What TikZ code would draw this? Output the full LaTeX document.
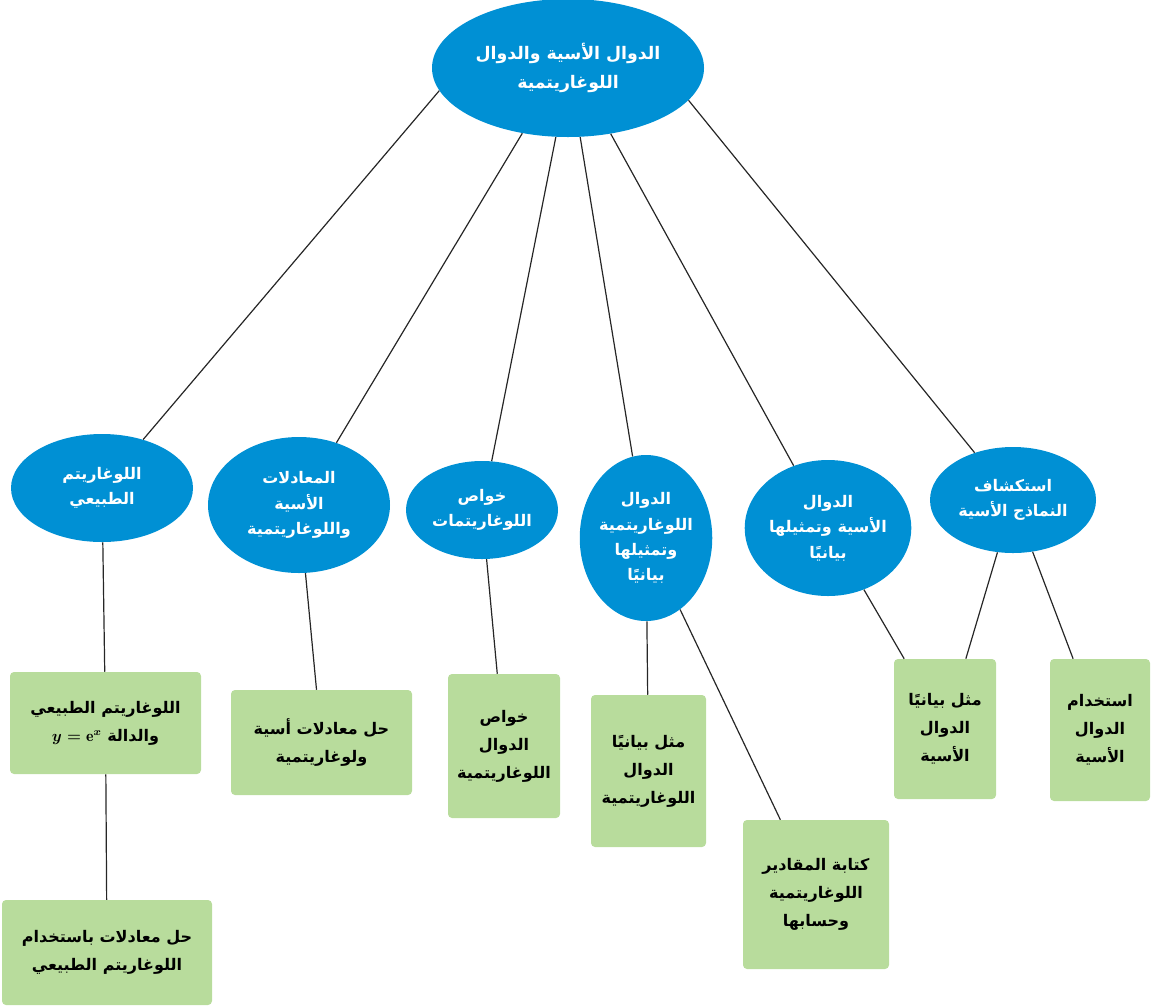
\documentclass[tikz,border=0pt]{standalone}
\usepackage{amsmath}
\usepackage{fontspec}
\newfontfamily\ar[Script=Arabic]{DejaVu Sans}
\usetikzlibrary{shapes.geometric}
\TeXXeTstate=1
\newcommand{\rl}[1]{\beginR #1\endR}
\definecolor{blu}{HTML}{0090D4}
\definecolor{grn}{HTML}{B8DC9C}
\begin{document}
\begin{tikzpicture}[x=0.75pt,y=-0.75pt,
 sz/.style 2 args={minimum width=#1*0.75pt,minimum height=#2*0.75pt},
 bl/.style={ellipse,fill=blu,inner sep=0pt,text=white,font=\ar\bfseries\fontsize{12}{19}\selectfont,align=center},
 gr/.style={rectangle,rounded corners=3pt,fill=grn,inner sep=0pt,font=\ar\bfseries\fontsize{12}{21}\selectfont,align=center},
 ln/.style={draw=black!85,line width=0.9pt}]
\useasboundingbox (0,0) rectangle (1151,1007);
\foreach \a/\b in {top/l1,top/l2,top/l3,top/l4,top/l5,top/l6} {}
\node[bl,sz={272}{138},font=\ar\bfseries\fontsize{13}{22}\selectfont] (top) at (568,68) {\rl{الدوال الأسية والدوال}\\\rl{اللوغاريتمية}};
\node[bl,sz={182}{108}] (l1) at (102,488) {\rl{اللوغاريتم}\\\rl{الطبيعي}};
\node[bl,sz={182}{136}] (l2) at (299,505) {\rl{المعادلات}\\\rl{الأسية}\\\rl{واللوغاريتمية}};
\node[bl,sz={152}{98}] (l3) at (482,510) {\rl{خواص}\\\rl{اللوغاريتمات}};
\node[bl,sz={130}{166}] (l4) at (646,538) {\rl{الدوال}\\\rl{اللوغاريتمية}\\\rl{وتمثيلها}\\\rl{بيانيًا}};
\node[bl,sz={152}{136}] (l5) at (828,528) {\rl{الدوال}\\\rl{الأسية وتمثيلها}\\\rl{بيانيًا}};
\node[bl,sz={166}{106}] (l6) at (1013,500) {\rl{استكشاف}\\\rl{النماذج الأسية}};
\node[gr,sz={191}{102}] (g1) at (105.5,723) {\rl{اللوغاريتم الطبيعي}\\$\boldsymbol{y=\mathrm{e}^x}$ \rl{والدالة}};
\node[gr,sz={210}{105}] (g1b) at (107,952.5) {\rl{حل معادلات باستخدام}\\\rl{اللوغاريتم الطبيعي}};
\node[gr,sz={181}{105}] (g2) at (321.5,742.5) {\rl{حل معادلات أسية}\\\rl{ولوغاريتمية}};
\node[gr,sz={112}{144}] (g3) at (504,746) {\rl{خواص}\\\rl{الدوال}\\\rl{اللوغاريتمية}};
\node[gr,sz={115}{152}] (g4) at (648.5,771) {\rl{مثل بيانيًا}\\\rl{الدوال}\\\rl{اللوغاريتمية}};
\node[gr,sz={146}{149}] (g5) at (816,894.5) {\rl{كتابة المقادير}\\\rl{اللوغاريتمية}\\\rl{وحسابها}};
\node[gr,sz={102}{140}] (g6) at (945,729) {\rl{مثل بيانيًا}\\\rl{الدوال}\\\rl{الأسية}};
\node[gr,sz={100}{142}] (g7) at (1100,730) {\rl{استخدام}\\\rl{الدوال}\\\rl{الأسية}};
\draw[ln] (top.190) -- (l1);
\draw[ln] (top.235) -- (l2);
\draw[ln] (top.260) -- (l3);
\draw[ln] (top.280) -- (l4);
\draw[ln] (top.303) -- (l5);
\draw[ln] (top.345) -- (l6);
\draw[ln] (l1) -- (g1);
\draw[ln] (g1) -- (g1b);
\draw[ln] (l2) -- (g2);
\draw[ln] (l3) -- (g3);
\draw[ln] (l4) -- (g4);
\draw[ln] (l4) -- (g5);
\draw[ln] (l5) -- (g6);
\draw[ln] (l6) -- (g6);
\draw[ln] (l6) -- (g7);
\end{tikzpicture}
\end{document}
